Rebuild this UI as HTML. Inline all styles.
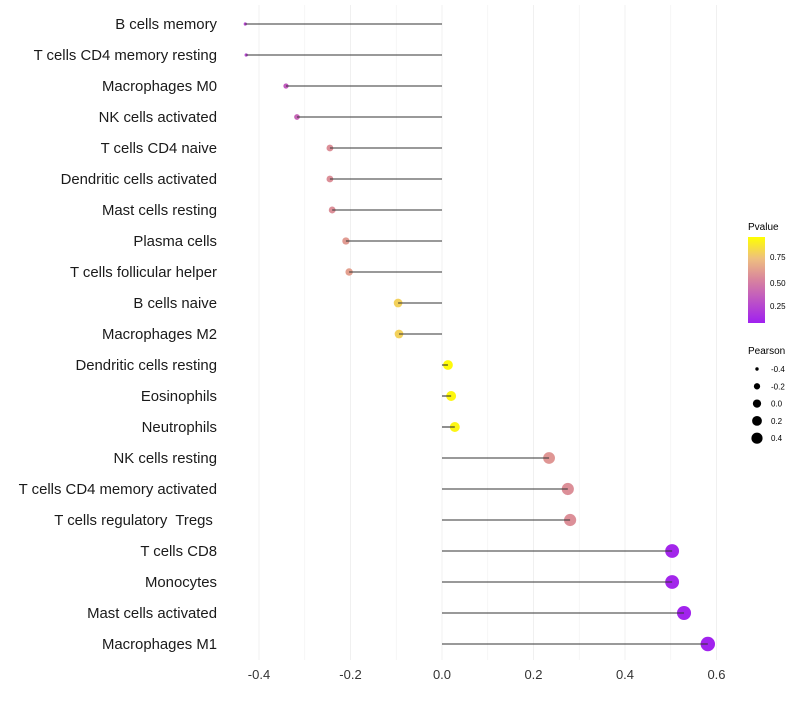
<!DOCTYPE html>
<html><head><meta charset="utf-8"><style>
body{margin:0;background:#fff;font-family:"Liberation Sans",sans-serif;}
text{white-space:pre;}
</style></head><body>
<svg id="chart" width="800" height="700" xmlns="http://www.w3.org/2000/svg">
<defs><linearGradient id="pg" x1="0" y1="1" x2="0" y2="0">
<stop offset="0" stop-color="#a020f0"/><stop offset="0.5" stop-color="#d8839e"/><stop offset="0.75" stop-color="#eebf7f"/><stop offset="1" stop-color="#ffff00"/></linearGradient></defs>
<g id="grid"></g><g id="marks"></g><g id="stems"></g><g id="ylabels"></g><g id="xlabels"></g>
<g id="legend">
<text x="748" y="230" font-size="10">Pvalue</text>
<rect x="748" y="237" width="17" height="86" fill="url(#pg)"/>
<text x="770" y="260" font-size="8">0.75</text>
<text x="770" y="286" font-size="8">0.50</text>
<text x="770" y="309" font-size="8">0.25</text>
<text x="748" y="354" font-size="10">Pearson</text>
<g id="sizeleg"></g>
</g>
</svg>
<script>
const categories=["B cells memory","T cells CD4 memory resting","Macrophages M0","NK cells activated","T cells CD4 naive","Dendritic cells activated","Mast cells resting","Plasma cells","T cells follicular helper","B cells naive","Macrophages M2","Dendritic cells resting","Eosinophils","Neutrophils","NK cells resting","T cells CD4 memory activated","T cells regulatory  Tregs ","T cells CD8","Monocytes","Mast cells activated","Macrophages M1"];
const pearson=[-0.43,-0.428,-0.341,-0.317,-0.245,-0.245,-0.24,-0.21,-0.203,-0.096,-0.094,0.013,0.02,0.028,0.234,0.275,0.28,0.503,0.503,0.529,0.581];
const pvalues=[0.2,0.2,0.3,0.35,0.55,0.55,0.55,0.6,0.62,0.82,0.82,0.98,0.97,0.96,0.58,0.55,0.55,0.03,0.03,0.02,0.01];
const xTicks=[-0.4,-0.2,0.0,0.2,0.4,0.6];
const sizeLegend=[-0.4,-0.2,0.0,0.2,0.4];
const NS="http://www.w3.org/2000/svg";
const x=v=>442+v*457.5;
const y=i=>24+i*31;
function r(v){const mn=-0.43,mx=0.581,a=1.6,b=7.2;const t=Math.max(0,(v-mn)/(mx-mn));return Math.sqrt(a*a+t*(b*b-a*a));}
function lerp(a,b,t){return a.map((c,i)=>Math.round(c+(b[i]-c)*t));}
const stops=[[0,[160,32,240]],[0.5,[216,131,158]],[0.75,[238,191,127]],[1,[255,255,0]]];
function col(p){for(let i=1;i<stops.length;i++){if(p<=stops[i][0]){const t=(p-stops[i-1][0])/(stops[i][0]-stops[i-1][0]);return "rgb("+lerp(stops[i-1][1],stops[i][1],t).join(",")+")";}}return "rgb(255,255,0)";}
function mk(tag,at,parent){const e=document.createElementNS(NS,tag);for(const k in at)e.setAttribute(k,at[k]);document.getElementById(parent).appendChild(e);return e;}
for(let v=-0.4;v<=0.61;v+=0.1){const g=mk("line",{x1:x(v),x2:x(v),y1:5,y2:660,stroke:"#f0f0f0","stroke-width":Math.abs(Math.round(v*10))%2==0?1:0.6},"grid");

}
xTicks.forEach(v=>{const t=mk("text",{x:x(v),y:679,"font-size":13,"text-anchor":"middle",fill:"#333"},"xlabels");t.textContent=v.toFixed(1);

});
categories.forEach((c,i)=>{
const t=mk("text",{x:217,y:y(i)+5,"font-size":14.9,"text-anchor":"end",fill:"#1a1a1a"},"ylabels");t.textContent=c;


const d=mk("circle",{cx:x(pearson[i]),cy:y(i),r:r(pearson[i]),fill:col(pvalues[i])},"marks");


const l=mk("line",{x1:x(0),x2:x(pearson[i]),y1:y(i),y2:y(i),stroke:"#333","stroke-width":1.1},"stems");


});
sizeLegend.forEach((v,i)=>{const cy=369+i*17.3;
const d=mk("circle",{cx:757,cy:cy,r:r(v)*0.85,fill:"#000"},"sizeleg");


const t=mk("text",{x:771,y:cy+3,"font-size":8},"sizeleg");t.textContent=v.toFixed(1);

});
</script>
</body></html>
